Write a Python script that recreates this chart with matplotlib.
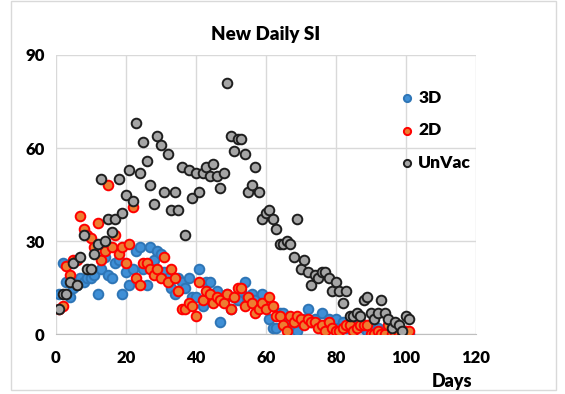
import matplotlib.pyplot as plt
import numpy as np

plt.rcParams['font.family'] = ['Lato', 'DejaVu Sans']
plt.rcParams['font.weight'] = 'bold'

# daily new SI counts, days 1..101
days = np.arange(1, 102)

si_3d = [13, 23, 17, 12, 15, 16, 18, 17, 18, 18,
         19, 13, 21, 25, 19, 18, 23, 24, 13, 20,
         16, 21, 27, 28, 21, 16, 28, 24, 27, 26,
         20, 18, 15, 13, 18, 17, 15, 18, 12, 12,
         21, 9, 17, 17, 12, 14, 4, 11, 13, 8,
         12, 11, 14, 17, 11, 13, 11, 9, 13, 10,
         5, 2, 2, 7, 7, 5, 5, 3, 1, 4,
         5, 8, 4, 5, 3, 7, 3, 5, 4, 5,
         2, 4, 2, 3, 3, 3, 4, 2, 1, 3,
         2, 2, 1, 1, 2, 1, 1, 1, 1, 0, 0]

si_2d = [8, 9, 22, 19, 24, 24, 38, 34, 32, 31,
         28, 36, 24, 27, 48, 28, 32, 26, 28, 23,
         29, 41, 18, 16, 23, 23, 21, 19, 21, 18,
         25, 17, 21, 18, 14, 8, 8, 10, 9, 6,
         17, 11, 14, 13, 10, 12, 11, 10, 13, 8,
         12, 15, 15, 9, 12, 10, 7, 8, 10, 8,
         12, 9, 6, 6, 3, 1, 6, 4, 6, 5,
         3, 5, 4, 4, 2, 3, 1, 4, 2, 1,
         1, 2, 3, 3, 1, 2, 3, 3, 3, 0,
         0, 1, 0, 0, 3, 0, 0, 0, 0, 1, 1]

si_unvac = [8, 13, 13, 17, 23, 16, 25, 32, 21, 21,
            26, 29, 50, 30, 37, 33, 37, 50, 39, 45,
            53, 43, 68, 52, 62, 56, 48, 42, 64, 61,
            46, 58, 40, 46, 40, 54, 32, 53, 44, 52,
            46, 52, 54, 51, 55, 51, 47, 52, 81, 64,
            59, 63, 63, 58, 46, 48, 54, 46, 37, 39,
            40, 37, 34, 29, 29, 30, 29, 25, 37, 21,
            24, 20, 16, 19, 18, 20, 20, 18, 14, 17,
            14, 10, 14, 6, 6, 7, 6, 11, 12, 7,
            5, 7, 11, 7, 5, 2, 4, 3, 1, 6, 5]

series = [
    ('3D', si_3d, '#3f8fd6', '#2e75b6'),
    ('2D', si_2d, '#ed7d31', '#ff0000'),
    ('UnVac', si_unvac, '#a5a5a5', '#1e1e1e'),
]

fig = plt.figure(figsize=(5.65, 3.94), dpi=100)
ax = fig.add_axes([55.7 / 565, 59.7 / 394, 420 / 565, 279.3 / 394])

for name, vals, fill, edge in series:
    ax.scatter(days, vals, s=48, color=fill, edgecolors=edge,
               linewidths=1.4, label=name, zorder=3)

ax.set_xlim(0, 120)
ax.set_ylim(0, 90)
ax.set_xticks(range(0, 121, 20))
ax.set_yticks([0, 30, 60, 90])
ax.grid(True, color='#d9d9d9', linewidth=1)
ax.set_axisbelow(True)
for side in ['top', 'right', 'left']:
    ax.spines[side].set_visible(False)
ax.spines['bottom'].set_color('#bfbfbf')
ax.tick_params(axis='x', length=0, labelsize=12, pad=11)
ax.tick_params(axis='y', length=0, labelsize=12, pad=8)
for lbl in ax.get_xticklabels() + ax.get_yticklabels():
    lbl.set_fontweight('heavy')

ax.set_title('New Daily SI', fontsize=13.5, fontweight='heavy', pad=11)
fig.text(452 / 565, 1 - 382 / 394, 'Days', fontsize=13, fontweight='heavy',
         ha='center', va='center')

leg = ax.legend(loc='upper left', bbox_to_anchor=(393 / 565, 1 - 81 / 394),
                bbox_transform=fig.transFigure, frameon=False, fontsize=12.5,
                borderpad=0, handlelength=0.6, handletextpad=0.35,
                labelspacing=0.95, markerscale=0.75)
for t in leg.get_texts():
    t.set_fontweight('heavy')

# chart area border
fig.add_artist(plt.Rectangle((11 / 565, 1 - 390 / 394), 545 / 565, 389 / 394,
                             transform=fig.transFigure, fill=False,
                             edgecolor='#d9d9d9', linewidth=1))

fig.savefig('out.png', dpi=100)
